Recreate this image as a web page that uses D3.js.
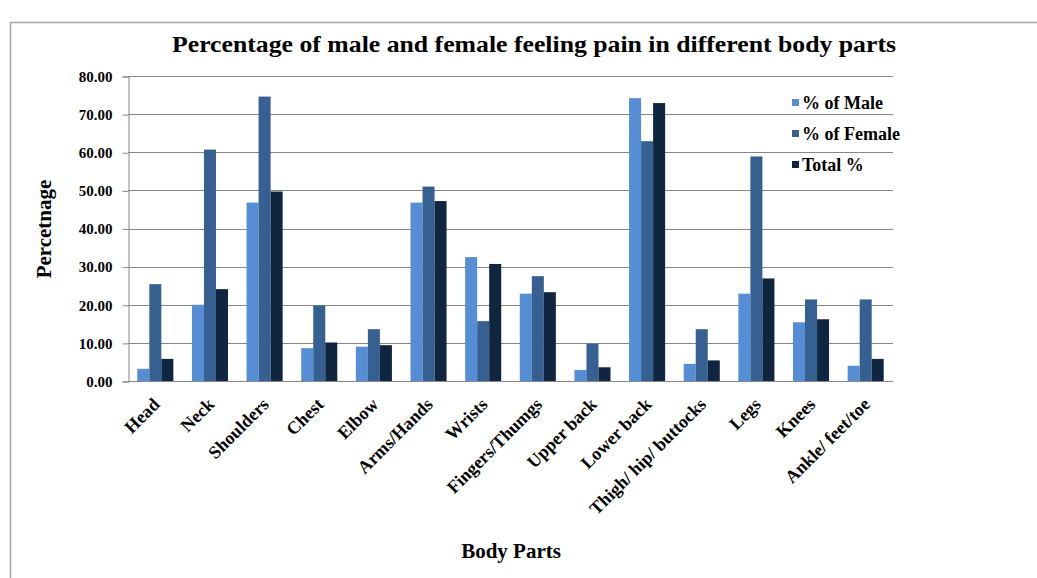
<!DOCTYPE html>
<html><head><meta charset="utf-8">
<script src="https://cdn.jsdelivr.net/npm/d3@7"></script>
<style>body{margin:0;background:#fff;} svg{display:block;}</style>
</head><body>
<svg id="chart" width="1037" height="578"></svg>
<script>
const categories = ["Head","Neck","Shoulders","Chest","Elbow","Arms/Hands","Wrists","Fingers/Thumgs","Upper back","Lower back","Thigh/ hip/ buttocks","Legs","Knees","Ankle/ feet/toe"];
const seriesNames = ["% of Male","% of Female","Total %"];
const maleValues = [3.2,20.0,46.8,8.6,9.0,46.8,32.5,22.9,2.9,74.2,4.5,22.9,15.4,4.0];
const femaleValues = [25.4,60.7,74.6,19.8,13.6,51.0,15.7,27.5,9.8,62.9,13.6,58.9,21.4,21.4];
const totalValues = [5.8,24.1,49.7,10.1,9.4,47.2,30.7,23.3,3.6,72.9,5.4,26.9,16.2,5.8];
const yTicks = [0,10,20,30,40,50,60,70,80];
const colors = ["#558ed5","#376092","#10253f"];

const svg = d3.select("#chart");
const font = "'Liberation Serif','Times New Roman',serif";
// outer frame
svg.append("rect").attr("x",10.5).attr("y",22.5).attr("width",1040).attr("height",570)
  .attr("fill","none").attr("stroke","#a6a6a6").attr("stroke-width",1.5);

const plot = {left:128, right:893, top:76, bottom:381};
const x = d3.scaleBand().domain(categories).range([plot.left, plot.right]).paddingInner(0.34).paddingOuter(0.17);
const x1 = d3.scaleBand().domain(seriesNames).range([0, x.bandwidth()]);
const y = d3.scaleLinear().domain([0,80]).range([plot.bottom, plot.top]);

// gridlines
svg.append("g").selectAll("line").data(yTicks).join("line")
  .attr("x1",plot.left).attr("x2",plot.right)
  .attr("y1",d=>Math.round(y(d))+0.5).attr("y2",d=>Math.round(y(d))+0.5)
  .attr("stroke","#868686").attr("stroke-width",1);

// bars
const data = categories.map((c,i)=>({c, vals:[maleValues[i],femaleValues[i],totalValues[i]]}));
const g = svg.append("g").selectAll("g").data(data).join("g")
  .attr("transform",d=>`translate(${x(d.c)},0)`);
g.selectAll("rect").data(d=>d.vals.map((v,j)=>({s:seriesNames[j],v,j}))).join("rect")
  .attr("x",d=>x1(d.s)).attr("width",x1.bandwidth())
  .attr("y",d=>y(d.v)).attr("height",d=>y(0)-y(d.v))
  .attr("fill",d=>colors[d.j]);

// y axis
const yAxis = d3.axisLeft(y).tickValues(yTicks).tickFormat(d3.format(".2f")).tickSize(6).tickPadding(10);
const ya = svg.append("g").attr("transform",`translate(${plot.left+0.5},0.5)`).call(yAxis);
ya.select(".domain").attr("stroke","#868686");
ya.selectAll(".tick line").attr("stroke","#868686");
ya.selectAll("text").attr("font-family",font).attr("font-weight","bold").attr("font-size",15).attr("fill","#000");

// x axis line
svg.append("line").attr("x1",plot.left).attr("x2",plot.right).attr("y1",plot.bottom+0.5).attr("y2",plot.bottom+0.5).attr("stroke","#868686");

// x labels
svg.append("g").selectAll("text").data(categories).join("text")
  .attr("transform",d=>`translate(${x(d)+x.bandwidth()/2+1},${plot.bottom+20}) rotate(-45)`)
  .attr("text-anchor","end").attr("dy","0.35em")
  .attr("font-family",font).attr("font-weight","bold").attr("font-size",18).attr("fill","#000")
  .text(d=>d);

// title
svg.append("text").attr("x",534).attr("y",52).attr("text-anchor","middle")
  .attr("font-family",font).attr("font-weight","bold").attr("font-size",24)
  .attr("textLength",724).attr("lengthAdjust","spacingAndGlyphs")
  .text("Percentage of male and female feeling pain in  different body parts");

// y title
svg.append("text").attr("transform","translate(51,229) rotate(-90)").attr("text-anchor","middle")
  .attr("font-family",font).attr("font-weight","bold").attr("font-size",21).text("Percetnage");

// x title
svg.append("text").attr("x",511).attr("y",558).attr("text-anchor","middle")
  .attr("font-family",font).attr("font-weight","bold").attr("font-size",21).text("Body Parts");

// legend
const lg = svg.append("g").selectAll("g").data(seriesNames).join("g")
  .attr("transform",(d,i)=>`translate(792,${109+i*31})`);
lg.append("rect").attr("x",0).attr("y",-10).attr("width",7).attr("height",7).attr("fill",(d,i)=>colors[i]);
lg.append("text").attr("x",10).attr("y",0).attr("font-family",font).attr("font-weight","bold").attr("font-size",18).text(d=>d);
</script>
</body></html>
